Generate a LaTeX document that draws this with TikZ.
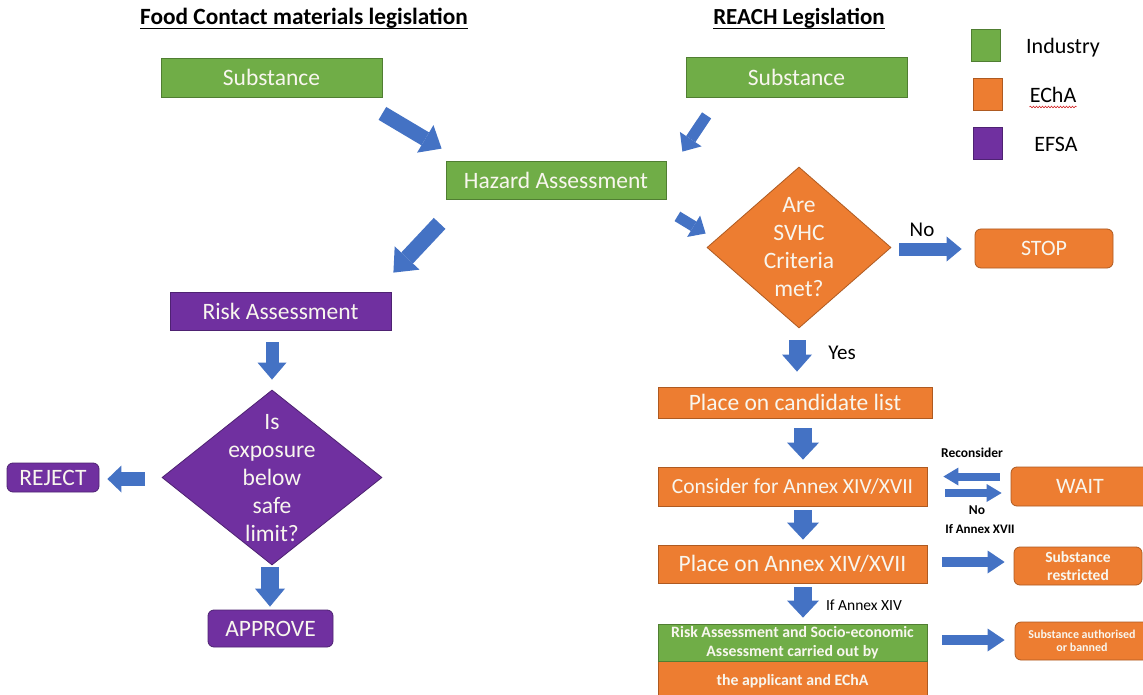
\documentclass[tikz,border=0pt]{standalone}
\usepackage{fontspec}
\setmainfont{Carlito}
\usetikzlibrary{shapes.geometric,arrows.meta,calc,decorations.pathmorphing}
\definecolor{cg}{HTML}{70AD47}\definecolor{cgd}{HTML}{507E32}
\definecolor{co}{HTML}{ED7D31}\definecolor{cod}{HTML}{AE5A21}
\definecolor{cp}{HTML}{7030A0}\definecolor{cpd}{HTML}{4E2272}
\definecolor{ab}{HTML}{4472C4}
\definecolor{tw}{HTML}{F8F6EE}
\newcommand\myfs[2]{\fontsize{#1}{#2}\selectfont}
\tikzset{
  box/.style={rectangle, line width=0.8pt, text=tw, inner sep=0pt, align=center, font=\myfs{23.5}{28}},
  gbox/.style={box, fill=cg, draw=cgd},
  obox/.style={box, fill=co, draw=cod},
  pbox/.style={box, fill=cp, draw=cpd},
  rnd/.style={rounded corners=6pt},
  dia/.style={diamond, inner sep=0pt, line width=0.8pt},
  dtext/.style={text=tw, align=center, inner sep=0pt, font=\myfs{23.5}{28}},
  lbl/.style={inner sep=0pt, text=black},
  leg/.style={rectangle, inner sep=0pt, minimum width=29pt, minimum height=32pt, line width=0.8pt},
  blkarrow/.style n args={3}{draw=ab, line width=#1, -{Triangle[width=#2,length=#3,line width=0pt]}},
}
\begin{document}
\begin{tikzpicture}[x=1pt,y=-1pt]
\fill[white] (0,0) rectangle (1143,695);
\useasboundingbox (0,0) rectangle (1143,695);

% titles
\node[lbl, anchor=base, font=\myfs{23.3}{27}\bfseries] (t1) at (304,25) {Food Contact materials legislation};
\draw[line width=1.4pt] ([yshift=-3.5pt]t1.base west) -- ([yshift=-3.5pt]t1.base east);
\node[lbl, anchor=base, font=\myfs{23}{27}\bfseries] (t2) at (799,25) {REACH Legislation};
\draw[line width=1.4pt] ([yshift=-3.5pt]t2.base west) -- ([yshift=-3.5pt]t2.base east);

% legend
\node[leg, fill=cg, draw=cgd] (lg1) at (986,45) {};
\node[leg, fill=co, draw=cod] (lg2) at (988,94) {};
\node[leg, fill=cp, draw=cpd] (lg3) at (988,143) {};
\node[lbl, font=\myfs{22}{26}] (lt1) at (1063,48) {Industry};
\node[lbl, font=\myfs{22}{26}] (lt2) at (1053,95) {EChA};
\node[lbl, font=\myfs{22}{26}] (lt3) at (1056,144) {EFSA};
\draw[red!80!black, line width=0.5pt, decorate, decoration={snake, amplitude=0.8pt, segment length=3pt}]
  ([yshift=-4pt]lt2.south west) -- ([yshift=-4pt]lt2.south east);

% left column
\node[gbox, minimum width=221pt, minimum height=39pt] (sub1) at (271.5,77.5) {Substance};
\node[gbox, minimum width=221pt, minimum height=40pt] (sub2) at (796.5,77) {Substance};
\node[gbox, minimum width=220pt, minimum height=38pt] (haz) at (556,180) {Hazard Assessment};
\node[pbox, minimum width=221pt, minimum height=38pt] (risk) at (280.5,311) {Risk Assessment};
\node[dia, fill=cp, draw=cpd, minimum width=220pt, minimum height=175pt] (dia1) at (272,477.5) {};
\node[dtext] (dt1) at ([yshift=-1pt]dia1.center) {Is\\exposure\\below\\safe\\limit?};
\node[pbox, rnd, minimum width=92pt, minimum height=29pt] (reject) at (53,477.5) {REJECT};
\node[pbox, rnd, minimum width=125pt, minimum height=37pt] (approve) at (270.5,628.5) {APPROVE};

% right column
\node[dia, fill=co, draw=cod, minimum width=184pt, minimum height=161pt] (dia2) at (799,247.5) {};
\node[dtext] (dt2) at (dia2) {Are\\SVHC\\Criteria\\met?};
\node[obox, rnd, minimum width=138pt, minimum height=39pt, font=\myfs{22}{26}] (stop) at (1044,248.5) {STOP};
\node[obox, minimum width=274pt, minimum height=31pt] (cand) at (795,402.5) {Place on candidate list};
\node[obox, minimum width=269pt, minimum height=39pt, font=\myfs{21.5}{26}] (cons) at (792.5,486.5) {Consider for Annex XIV/XVII};
\node[obox, rnd, minimum width=138pt, minimum height=39pt, font=\myfs{22}{26}] (wait) at (1080,486.5) {WAIT};
\node[obox, minimum width=269pt, minimum height=38pt] (place) at (792.5,564) {Place on Annex XIV/XVII};
\node[obox, rnd, minimum width=128pt, minimum height=38pt, font=\myfs{15.5}{17.7}\bfseries] (restr) at (1078,566) {Substance\\restricted};
\node[obox, minimum width=269pt, minimum height=40pt, font=\myfs{15.8}{19}\bfseries] (appl) at (792.5,681) {the applicant and EChA};
\node[gbox, minimum width=269pt, minimum height=37pt, font=\myfs{15.8}{18.7}\bfseries] (green) at (792.5,642.5) {Risk Assessment and Socio-economic\\Assessment carried out by};
\node[obox, rnd, minimum width=134pt, minimum height=38pt, font=\myfs{12}{13.3}\bfseries] (auth) at (1082,641) {Substance authorised\\or banned};

% labels
\node[lbl, font=\myfs{21}{25}] (lno1) at (922,230) {No};
\node[lbl, font=\myfs{21}{25}] (lyes) at (842,353) {Yes};
\node[lbl, font=\myfs{13.5}{16}\bfseries] (lrec) at (972,453) {Reconsider};
\node[lbl, font=\myfs{13.5}{16}\bfseries] (lno2) at (977,510) {No};
\node[lbl, font=\myfs{13}{16}\bfseries] (lx17) at (980,529) {If Annex XVII};
\node[lbl, font=\myfs{15.5}{18}] (lx14) at (864,605) {If Annex XIV};

% arrows
\draw[blkarrow={15pt}{32pt}{19pt}] ($(sub1.south east)+(0,16)$) -- ($(haz.north west)+(-4,-12)$);
\draw[blkarrow={11pt}{26pt}{15pt}] ($(sub2.south west)+(21,18)$) -- ($(haz.north east)+(16,-9)$);
\draw[blkarrow={16pt}{34pt}{20pt}] ($(haz.south west)+(-6,24)$) -- ($(risk.north east)+(2,-19)$);
\draw[blkarrow={11pt}{25pt}{14pt}] ($(haz.south east)+(11,17)$) -- ($(dia2.west)+(-1,-14)$);
\draw[blkarrow={13pt}{29pt}{17pt}] ([yshift=-12pt]dia1.north |- risk.south) -- ([yshift=10pt]dia1.north);
\draw[blkarrow={14pt}{27pt}{14pt}] ([xshift=-17pt,yshift=-1.5pt]dia1.west) -- ([xshift=8pt,yshift=-1.5pt]reject.east);
\draw[blkarrow={18pt}{30pt}{18pt}] ([xshift=-2pt,yshift=-2pt]dia1.south) -- ([xshift=-2pt,yshift=3pt]dia1.south |- approve.north);
\draw[blkarrow={13pt}{25pt}{15pt}] ([xshift=8pt,yshift=-1.5pt]dia2.east) -- ([xshift=-13pt,yshift=-0.5pt]stop.west);
\draw[blkarrow={17pt}{30pt}{17pt}] ([xshift=-2pt,yshift=-12pt]dia2.south) -- ([xshift=-2pt,yshift=15pt]dia2.south |- cand.north);
\draw[blkarrow={18pt}{32pt}{17pt}] ([xshift=8pt,yshift=-10pt]cand.south) -- ([xshift=8pt,yshift=7pt]cand.south |- cons.north);
\draw[blkarrow={8pt}{18pt}{15pt}] ([xshift=-11pt,yshift=10pt]wait.west) -- ([xshift=16pt,yshift=10pt]cons.east);
\draw[blkarrow={8pt}{18pt}{15pt}] ([xshift=18pt,yshift=-6.5pt]cons.east) -- ([xshift=-9pt,yshift=-6.5pt]wait.west);
\draw[blkarrow={18pt}{32pt}{17pt}] ([xshift=10.5pt,yshift=-4pt]cons.south) -- ([xshift=10.5pt,yshift=5pt]place.north);
\draw[blkarrow={10pt}{23pt}{17pt}] ([xshift=15pt,yshift=2pt]place.east) -- ([xshift=-9pt,yshift=4pt]restr.west);
\draw[blkarrow={18pt}{32pt}{17pt}] ([xshift=10.5pt,yshift=-4pt]place.south) -- ([xshift=10.5pt,yshift=6pt]green.north);
\draw[blkarrow={10pt}{23pt}{17pt}] ([xshift=15pt,yshift=2.5pt]green.east) -- ([xshift=-10pt,yshift=1pt]auth.west);
\end{tikzpicture}
\end{document}
